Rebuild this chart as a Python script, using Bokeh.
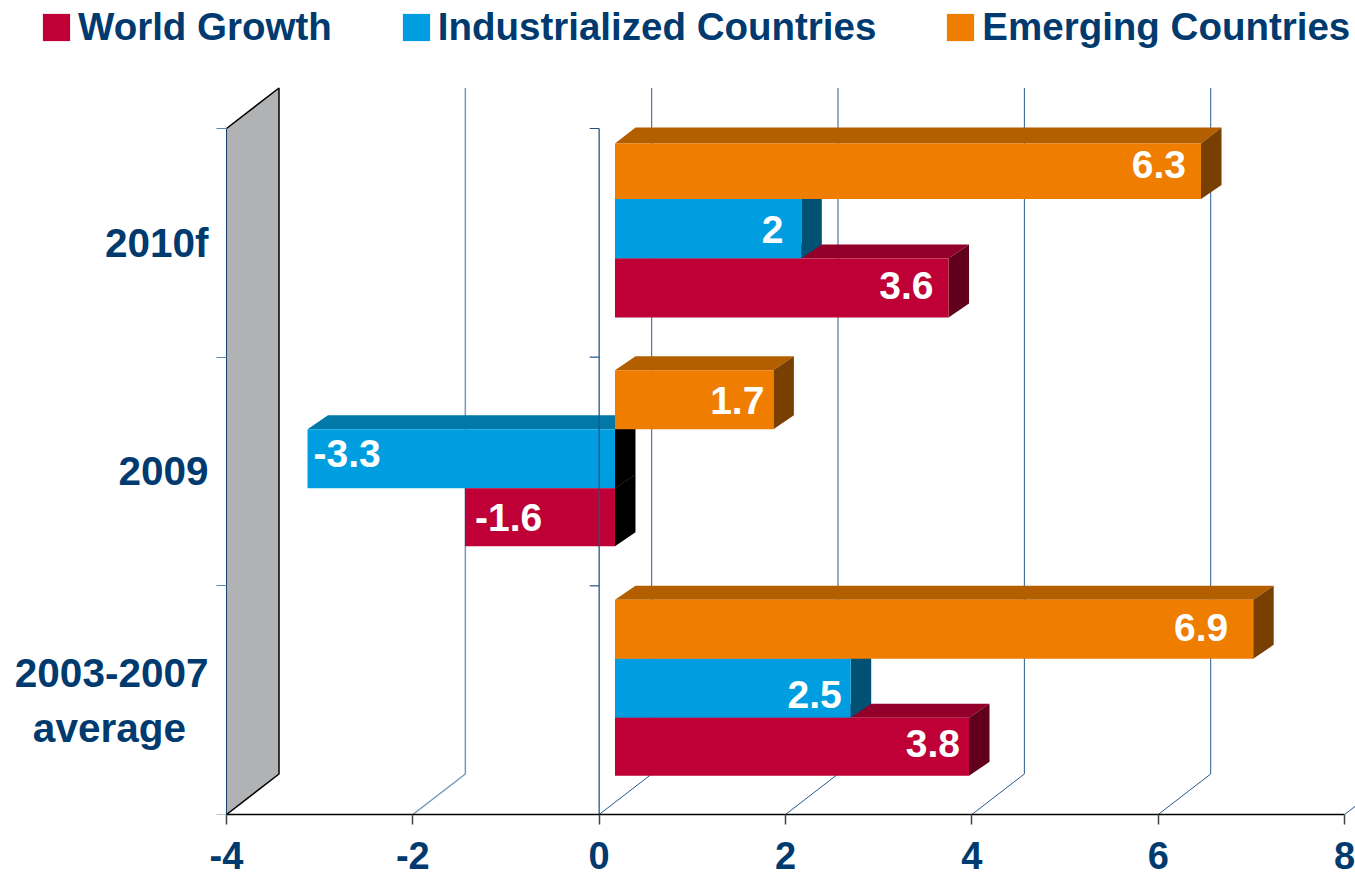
from bokeh.embed import file_html
from bokeh.resources import INLINE
from bokeh.plotting import figure
from bokeh.models import FixedTicker, Legend, LegendItem, ColumnDataSource
from bokeh.core.properties import value

# ---- data (bottom to top on the chart)
categories = ["2003-2007\naverage\u00a0\u00a0", "2009", "2010f"]
world = [3.8, -1.61, 3.58]
industrialized = [2.53, -3.3, 2.0]
emerging = [6.85, 1.7, 6.29]
world_labels = ["3.8", "-1.6", "3.6"]
industrialized_labels = ["2.5", "-3.3", "2"]
emerging_labels = ["6.9", "1.7", "6.3"]
x_ticks = [-4, -2, 0, 2, 4, 6, 8]
x_tick_labels = ["-4", "-2", "0", "2", "4", "6", "8"]

NAVY = "#003A6E"
FONT = "Liberation Sans"
PX, PY = 93.17, 228.67            # pixels per data unit
W, H = 1355, 876
LEFT, BOTTOM = 226, 62

p = figure(width=W, height=H, output_backend="svg", toolbar_location=None,
           x_range=(-4 - LEFT / PX, -4 + (W - LEFT) / PX), y_range=(0, (H - BOTTOM) / PY),
           min_border_left=0, min_border_right=0, min_border_top=0, min_border_bottom=BOTTOM,
           outline_line_color=None, background_fill_color="white",
           styles={"position": "absolute", "left": "0", "top": "0"})
p.grid.visible = False

# axes
p.xaxis.ticker = FixedTicker(ticks=x_ticks)
p.xaxis.bounds = (-4, 8)
p.xaxis.major_label_overrides = dict(zip(x_ticks, x_tick_labels))
p.xaxis.axis_line_color = "black"
p.xaxis.axis_line_width = 1.5
p.xaxis.major_tick_line_color = "#444444"
p.xaxis.major_tick_line_width = 1.5
p.xaxis.major_tick_in = 0
p.xaxis.major_tick_out = 10
p.xaxis.minor_tick_line_color = None
p.xaxis.major_label_standoff = 17
p.xaxis.major_label_text_font = FONT
p.xaxis.major_label_text_font_style = "bold"
p.xaxis.major_label_text_font_size = "38px"
p.xaxis.major_label_text_color = NAVY

p.yaxis.fixed_location = -4
p.yaxis.ticker = FixedTicker(ticks=[0.5, 1.5, 2.5], minor_ticks=[0, 1, 2, 3])
p.yaxis.bounds = (0, 3)
p.yaxis.major_label_overrides = {0.5: categories[0], 1.5: categories[1], 2.5: categories[2]}
p.yaxis.axis_line_color = "#17406E"
p.yaxis.major_tick_line_color = None
p.yaxis.minor_tick_line_color = "#5F86AE"
p.yaxis.minor_tick_out = 10
p.yaxis.minor_tick_in = 0
p.yaxis.major_label_standoff = 8
p.yaxis.major_label_text_font = FONT
p.yaxis.major_label_text_font_style = "bold"
p.yaxis.major_label_text_font_size = "40.5px"
p.yaxis.major_label_text_color = NAVY

# 3-D depth of the walls and bars, in data units
WALL_X, WALL_Y = 52.5 / PX, 40.5 / PY
BAR_X0, BAR_DX, BAR_DY = 15.8 / PX, 20.5 / PX, 14 / PY
TOP_Y = 3 + WALL_Y

# side wall
p.patch([-4, -4 + WALL_X, -4 + WALL_X, -4], [0, WALL_Y, TOP_Y, 3],
        fill_color="#B1B2B4", line_color=None)
p.line([-4, -4 + WALL_X, -4 + WALL_X, -4], [0, WALL_Y, TOP_Y, 3], line_color="black", line_width=1.5)

# grid lines on the wall and floor
gx = [[t, t + WALL_X, t + WALL_X] for t in x_ticks[1:]]
gy = [[0, WALL_Y, TOP_Y] for t in x_ticks[1:]]
p.multi_line(gx, gy, line_color=["#7A98BC", "#2A5A8C", "#2A5A8C", "#2A5A8C", "#2A5A8C", "#2A5A8C"],
             line_width=[1.5, 1, 1, 1, 1, 1])

# bars
edges = {2: (15, 70.5, 130, 189), 1: (13, 72, 131, 189), 0: (14, 73, 132, 190)}
SERIES = {
    "emerging": (emerging, 0, "#EE7D00", "#B35F00", "#783F00"),
    "industrialized": (industrialized, 1, "#009EE0", "#0078A8", "#005174"),
    "world": (world, 2, "#BE0036", "#92002A", "#60001C"),
}
first_front = {}


def box(name, g):
    vals, slot, *_ = SERIES[name]
    v = vals[g]
    a, b = min(v, 0) + BAR_X0, max(v, 0) + BAR_X0
    t = g + 1 - edges[g][slot] / PY
    u = g + 1 - edges[g][slot + 1] / PY
    return a, b, t, u, v


def faces(name, g):
    *_, top, side = SERIES[name]
    a, b, t, u, v = box(name, g)
    dy = 16 / PY if (name, g) == ("emerging", 2) else BAR_DY
    p.patch([a, a + BAR_DX, b + BAR_DX, b], [t, t + dy, t + dy, t], fill_color=top, line_color=None)
    p.patch([b, b + BAR_DX, b + BAR_DX, b], [t, t + dy, u + BAR_DY, u],
            fill_color="black" if v < 0 else side, line_color=None)


def front(name, g):
    colour = SERIES[name][2]
    a, b, t, u, v = box(name, g)
    r = p.quad(left=[a], right=[b], top=[t], bottom=[u], fill_color=colour, line_color=None)
    first_front.setdefault(name, r)


for g in range(3):
    faces("world", g)
    faces("industrialized", g)
    front("industrialized", g)
    front("world", g)
    faces("emerging", g)
    front("emerging", g)

# the zero axis runs over the bars
p.line([0, 0], [0, 3], line_color="#1F5488", line_width=1.5, line_alpha=0.85)
p.segment(x0=[0] * 4, y0=[0, 1, 2, 3], x1=[-9.5 / PX] * 4, y1=[0, 1, 2, 3], line_color="#1F5488", line_width=1.2)

# data labels: px from bar end, px from bar centre, by group
rows = []
for name, labels, xoff, yoff in [
    ("emerging", emerging_labels, [-25, -9, -15], [-1.5, 1, -7]),
    ("industrialized", industrialized_labels, [-9, 6, -18], [6.5, -5.5, 1]),
    ("world", world_labels, [-9, 10, -15], [-3, 0, -2.5]),
]:
    vals, slot, *_ = SERIES[name]
    for g in range(3):
        c = g + 1 - (edges[g][slot] + edges[g][slot + 1]) / 2 / PY
        rows.append(dict(x=vals[g] + BAR_X0, y=c, t=labels[g], xo=xoff[g], yo=yoff[g],
                         al="left" if vals[g] < 0 else "right"))
src = ColumnDataSource({k: [r[k] for r in rows] for k in rows[0]})
p.text(x="x", y="y", text="t", x_offset="xo", y_offset="yo", text_align="al", text_baseline="middle",
       text_color="white", text_font=value(FONT), text_font_style="bold", text_font_size=value("39px"),
       source=src)

legend = Legend(items=[
    LegendItem(label="World Growth", renderers=[first_front["world"]]),
    LegendItem(label="Industrialized Countries", renderers=[first_front["industrialized"]]),
    LegendItem(label="Emerging Countries", renderers=[first_front["emerging"]]),
], orientation="horizontal", location=(39, 765), background_fill_alpha=0, border_line_color=None,
    glyph_width=34, glyph_height=34, label_standoff=5, spacing=67, padding=0, margin=0,
    label_text_font=FONT, label_text_font_style="bold", label_text_font_size="38.5px",
    label_text_color=NAVY, click_policy="none")
p.add_layout(legend, "center")

open("out.html", "w").write(file_html(p, INLINE))
